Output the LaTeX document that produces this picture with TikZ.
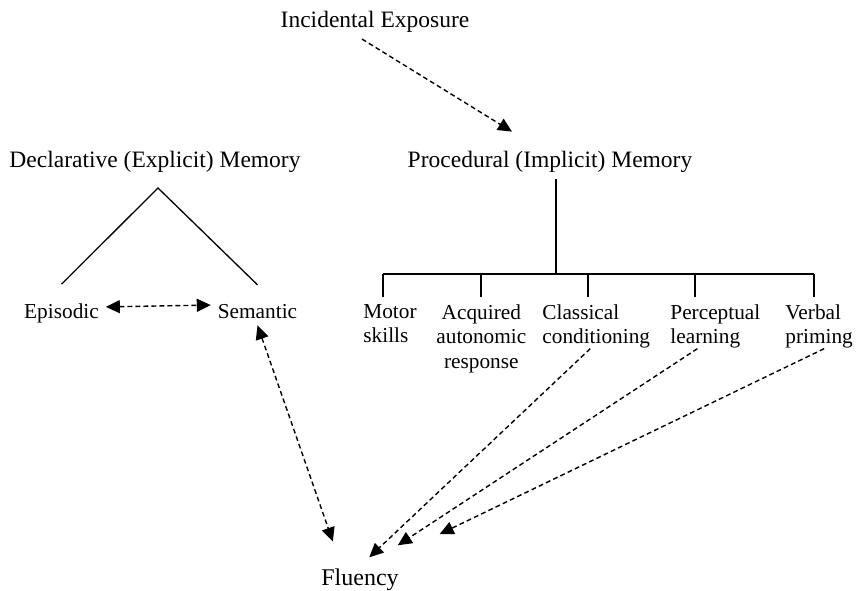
\documentclass[tikz,border=0pt]{standalone}
\usepackage{fontspec}
\setmainfont{Liberation Serif}
\usetikzlibrary{arrows.meta}
\tikzset {
  x=0.5pt, y=-0.5pt,
  >={Triangle[length=7pt,width=6.5pt]},
  % the three big titles
  head/.style = {font=\fontsize{11.75}{14}\selectfont, anchor=base},
  % episodic and semantic
  kind/.style = {font=\fontsize{10.65}{12.5}\selectfont, anchor=base},
  % the kinds of procedural memory
  leaf/.style = {font=\fontsize{10.65}{12.25}\selectfont, inner sep=0pt,
    anchor=north west, align=left},
  % solid lines of the two trees
  tree/.style = {line width=0.65pt},
  % dashed links
  link/.style = {line width=0.7pt, dash pattern=on 2.4pt off 1.6pt},
}

\begin{document}
\begin{tikzpicture}
  \useasboundingbox (0,0) rectangle (860,590);

  \node[head] (inc) at (375,27) {Incidental Exposure};
  \node[head] (decl) at (155,167) {Declarative (Explicit) Memory};
  \node[head] (proc) at (550,167) {Procedural (Implicit) Memory};

  % declarative side
  \coordinate (apex) at (158,188);
  \node[kind] (epi) at (61.5,318) {Episodic};
  \node[kind] (sem) at (257.5,318) {Semantic};
  \draw[tree] ([yshift=6pt]epi.north) -- (apex) -- ([yshift=6pt]sem.north);
  \draw[link, <->] ([yshift=3pt]epi.east) -- ([yshift=3pt]sem.west);

  % procedural side
  \coordinate (bus) at (556,274);
  \coordinate (b1) at (383,274);
  \coordinate (b2) at (481,274);
  \coordinate (b3) at (588,274);
  \coordinate (b4) at (695,274);
  \coordinate (b5) at (814,274);
  \node[leaf] (mot) at (363,304) {Motor\\skills};
  \node[leaf, align=center] (acq) at (436,304) {Acquired\\autonomic\\response};
  \node[leaf] (cls) at (542,304) {Classical\\conditioning};
  \node[leaf] (per) at (670,304) {Perceptual\\learning};
  \node[leaf] (ver) at (785,304) {Verbal\\priming};

  \draw[tree] (bus |- proc.south) -- (bus);
  \draw[tree] (b1) -- (b5);
  \foreach \b/\l in {b1/mot, b2/acq, b3/cls, b4/per, b5/ver}
    \draw[tree, shorten >=3.5pt] (\b) -- (\b |- \l.north);

  \draw[link, ->] ([xshift=-6.5pt]inc.south) -- ([xshift=-19pt,yshift=6pt]proc.north);

  % everything ends in fluency
  \node[font=\fontsize{12}{14}\selectfont, anchor=base] (flu) at (360,585) {Fluency};
  \draw[link, <->, shorten >=20pt] (sem.south) -- ([xshift=-7pt]flu.center);
  \draw[link, ->, shorten >=16pt] ([xshift=-3pt]cls.south) -- ([xshift=-7pt]flu.center);
  \draw[link, ->, shorten >=31pt] ([xshift=-9pt]per.south) -- ([xshift=-7pt]flu.center);
  \draw[link, ->, shorten >=52pt] ([xshift=2.5pt]ver.south) -- ([xshift=-7pt]flu.center);
\end{tikzpicture}
\end{document}
